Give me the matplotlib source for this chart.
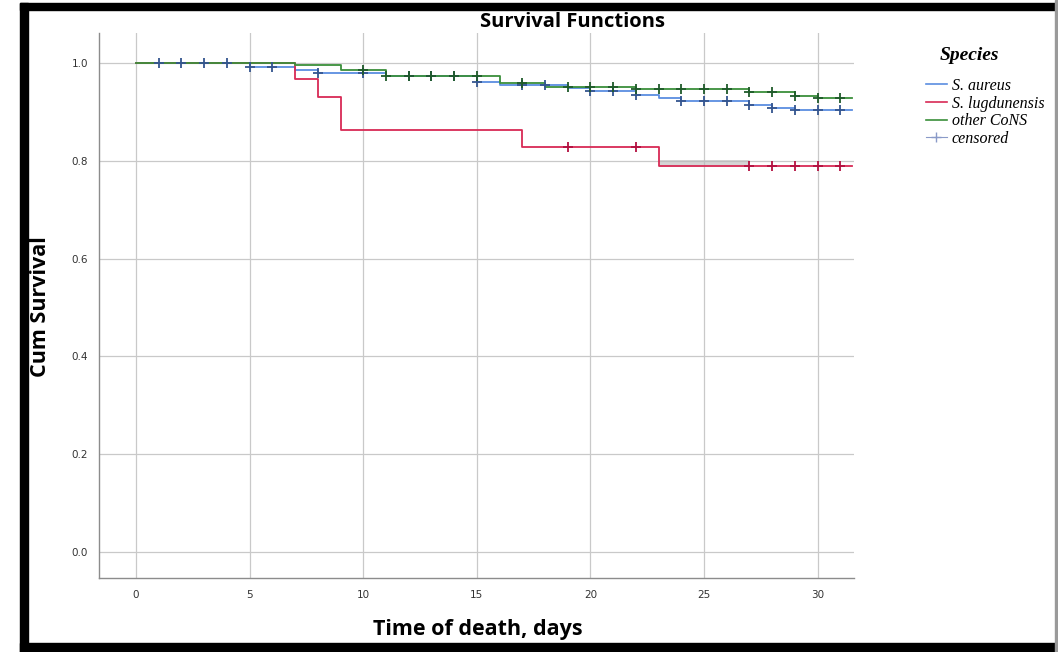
import numpy as np
import matplotlib
matplotlib.use("Agg")
import matplotlib.pyplot as plt
from matplotlib.lines import Line2D
from matplotlib.patches import Rectangle

# step data (event times and survival after the step)
aureus_t = [0, 5, 7, 8, 11, 15, 16, 19, 20, 22, 23, 24, 27, 28, 29, 31.5]
aureus_s = [1.0, 0.992, 0.986, 0.980, 0.973, 0.960, 0.955, 0.948, 0.943, 0.934,
            0.928, 0.922, 0.914, 0.908, 0.904, 0.904]
lugd_t = [0, 7, 8, 9, 17, 23, 31.5]
lugd_s = [1.0, 0.966, 0.931, 0.862, 0.828, 0.790, 0.790]
cons_t = [0, 7, 9, 11, 16, 18, 22, 27, 29, 30, 31.5]
cons_s = [1.0, 0.996, 0.986, 0.973, 0.959, 0.951, 0.947, 0.940, 0.932, 0.928, 0.928]

# censored observations (days)
aureus_cens = [1, 2, 3, 4, 5, 6, 8, 10, 12, 13, 14, 15, 17, 18, 20, 21, 22, 24,
               25, 26, 27, 28, 29, 30, 31]
lugd_cens = [19, 22, 27, 28, 29, 30, 31]
cons_cens = [10, 11, 12, 13, 14, 15, 17, 19, 20, 21, 22, 23, 24, 25, 26, 27,
             28, 29, 30, 31]

labels = ["S. aureus", "S. lugdunensis", "other CoNS"]
line_colors = ["#5b8ee0", "#d82a55", "#3a8f3a"]
mark_colors = ["#34558f", "#b31040", "#1f5a2a"]

W, H = 1058, 652
fig = plt.figure(figsize=(W / 100, H / 100), dpi=100)
ax = fig.add_axes([99 / W, 1 - 578 / H, (854 - 99) / W, (578 - 33) / H])


def level(t_steps, s_steps, t):
    idx = np.searchsorted(t_steps, t, side="right") - 1
    return np.asarray(s_steps)[idx]


# grey shading remnant behind S. lugdunensis tail
ax.plot([23, 27], [0.795, 0.795], color="#b9b9b9", lw=5, alpha=0.6,
        solid_capstyle="butt", zorder=2)

series = [(aureus_t, aureus_s, aureus_cens), (lugd_t, lugd_s, lugd_cens),
          (cons_t, cons_s, cons_cens)]
for (t, s, c), lc, mc in zip(series, line_colors, mark_colors):
    ax.step(t, s, where="post", color=lc, lw=1.3, zorder=3)
    ax.plot(c, level(t, s, c), ls="none", marker="+", ms=7, mew=1.3,
            color=mc, zorder=4)

ax.set_xlim(-1.63, 31.6)
ax.set_ylim(-0.053, 1.061)
ax.set_xticks(np.arange(0, 31, 5))
ax.set_yticks(np.arange(0, 1.01, 0.2))
ax.set_yticklabels(["0.0", "0.2", "0.4", "0.6", "0.8", "1.0"])
ax.grid(True, color="#c9c9c9", lw=0.9)
ax.set_axisbelow(True)
for side in ["top", "right"]:
    ax.spines[side].set_visible(False)
for side in ["left", "bottom"]:
    ax.spines[side].set_color("#8c8c8c")
    ax.spines[side].set_linewidth(1.0)
ax.tick_params(length=0, labelsize=7.5, labelcolor="#333333")
ax.tick_params(axis="x", pad=9)
ax.tick_params(axis="y", pad=8)

fig.text(572 / W, 1 - 22 / H, "Survival Functions", ha="center", va="center",
         fontsize=14.5, fontweight="bold", family="Open Sans")
fig.text(478 / W, 1 - 630 / H, "Time of death, days", ha="center", va="center",
         fontsize=15.5, fontweight="bold", family="Open Sans")
fig.text(40 / W, 1 - 307 / H, "Cum Survival", ha="center", va="center",
         rotation=90, fontsize=15.5, fontweight="bold", family="Open Sans")

# legend
fig.text(940 / W, 1 - 56 / H, "Species", ha="left", va="center", fontsize=14,
         fontweight="bold", style="italic", family="Liberation Serif")
handles = [Line2D([], [], color=c, lw=1.2) for c in line_colors]
handles.append(Line2D([], [], color="#8a9ac8", lw=0.8, marker="+", ms=7))
fig.legend(handles, labels + ["censored"], loc="upper left",
           bbox_to_anchor=(926 / W, 1 - 78 / H), frameon=False,
           prop={"family": "Liberation Serif", "style": "italic", "size": 11.5},
           handlelength=1.3, handletextpad=0.3, labelspacing=0.1,
           borderpad=0, borderaxespad=0)

# black frame of the screenshot
fig.add_artist(Rectangle((20 / W, 0), 8 / W, 1 - 3 / H, color="black",
                         transform=fig.transFigure))
fig.add_artist(Rectangle((20 / W, 1 - 10 / H), 1 - 20 / W, 7 / H, color="black",
                         transform=fig.transFigure))
fig.add_artist(Rectangle((20 / W, 0), 1 - 20 / W, 9 / H, color="black",
                         transform=fig.transFigure))
fig.add_artist(Rectangle((1055 / W, 0), 2 / W, 1, color="#9a9a9a",
                         transform=fig.transFigure))

fig.savefig("out.png", dpi=100)
